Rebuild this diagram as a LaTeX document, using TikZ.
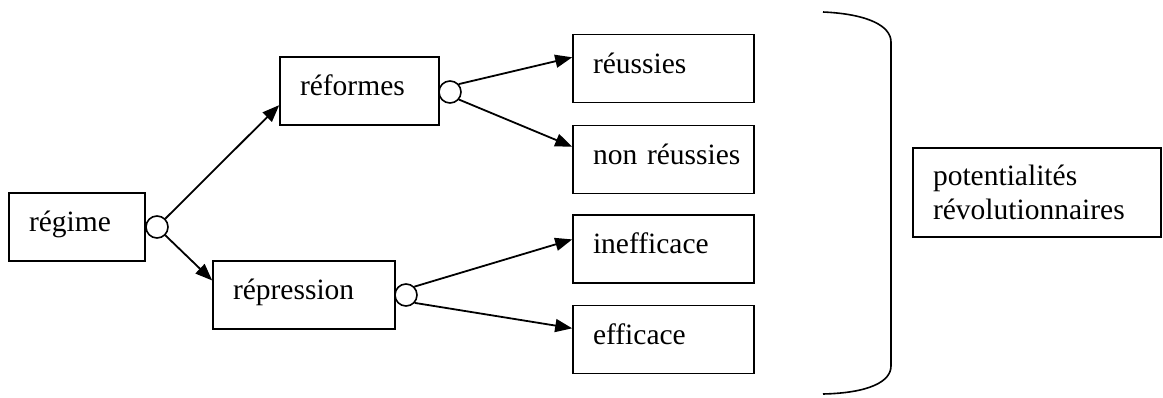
\documentclass[tikz,border=0pt]{standalone}
\usepackage{fontspec}
\setmainfont{Liberation Serif}
\usetikzlibrary{arrows.meta}

\begin{document}
\begin{tikzpicture}[x=1pt, y=-1pt,
    box/.style={draw, line width=1.6pt, align=left, inner xsep=20pt, inner ysep=0pt,
        text height=21pt, text depth=12pt, minimum height=68pt,
        font=\fontsize{29.5}{34}\selectfont},
    knot/.style={draw, circle, line width=1.6pt, minimum size=22pt, inner sep=0pt},
    link/.style={line width=1.8pt, -{Triangle[length=17pt,width=13pt]}}]
    \useasboundingbox (0,0) rectangle (1163,397);
    % boxes
    \node[box, text width=96pt] (regime) at (77,227) {régime};
    \node[box, text width=119pt] (reformes) at (359.5,91) {réformes};
    \node[box, text width=142pt] (repression) at (304,295) {répression};
    \node[box, text width=141pt] (reussies) at (663.5,68.5) {réussies};
    \node[box, text width=141pt] (nonreussies) at (663.5,159.5) {\mbox{non réussies}};
    \node[box, text width=141pt] (inefficace) at (663.5,249) {inefficace};
    \node[box, text width=141pt] (efficace) at (663.5,339.5) {efficace};
    \node[box, text width=208pt, minimum height=89pt, text height=21pt, text depth=36pt]
        (potentiel) at (1037,192.5) {potentialités\\révolutionnaires};
    % circles
    \node[knot] (c0) at (157,227) {};
    \node[knot] (c1) at (450,92) {};
    \node[knot] (c2) at (406,295) {};
    % arrows
    \draw[link] (c0.45) -- (reformes.190);
    \draw[link] (c0.-45) -- (repression.171);
    \draw[link] (c1.42) -- (reussies.173);
    \draw[link] (c1.-40) -- (nonreussies.172);
    \draw[link] (c2.45) -- (inefficace.174);
    \draw[link] (c2.-42) -- (efficace.173);
    % brace
    \draw[line width=1.6pt] (823,12) .. controls (868,14) and (891,26) .. (891,42)
        -- (891,366) .. controls (891,382) and (868,393) .. (823,394);
\end{tikzpicture}
\end{document}
